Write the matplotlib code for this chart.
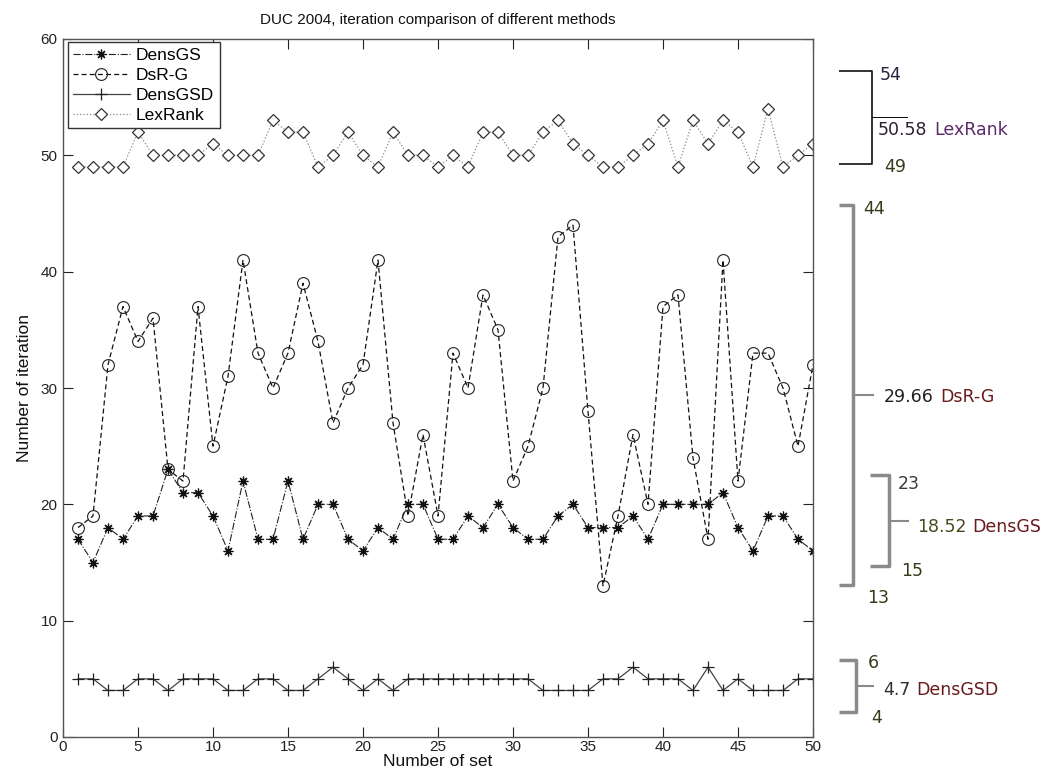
import numpy as np
import matplotlib
matplotlib.use("Agg")
import matplotlib.pyplot as plt
from matplotlib.lines import Line2D

# ---------------- data ----------------
sets = list(range(1, 51))
dens_gs = [17, 15, 18, 17, 19, 19, 23, 21, 21, 19, 16, 22, 17, 17, 22, 17, 20, 20, 17, 16,
           18, 17, 20, 20, 17, 17, 19, 18, 20, 18, 17, 17, 19, 20, 18, 18, 18, 19, 17, 20,
           20, 20, 20, 21, 18, 16, 19, 19, 17, 16]
dsr_g = [18, 19, 32, 37, 34, 36, 23, 22, 37, 25, 31, 41, 33, 30, 33, 39, 34, 27, 30, 32,
         41, 27, 19, 26, 19, 33, 30, 38, 35, 22, 25, 30, 43, 44, 28, 13, 19, 26, 20, 37,
         38, 24, 17, 41, 22, 33, 33, 30, 25, 32]
dens_gsd = [5, 5, 4, 4, 5, 5, 4, 5, 5, 5, 4, 4, 5, 5, 4, 4, 5, 6, 5, 4, 5, 4, 5, 5, 5,
            5, 5, 5, 5, 5, 5, 4, 4, 4, 4, 5, 5, 6, 5, 5, 5, 4, 6, 4, 5, 4, 4, 4, 5, 5]
lexrank = [49, 49, 49, 49, 52, 50, 50, 50, 50, 51, 50, 50, 50, 53, 52, 52, 49, 50, 52, 50,
           49, 52, 50, 50, 49, 50, 49, 52, 52, 50, 50, 52, 53, 51, 50, 49, 49, 50, 51, 53,
           49, 53, 51, 53, 52, 49, 54, 49, 50, 51]
series_names = ["DensGS", "DsR-G", "DensGSD", "LexRank"]
x_ticks = [0, 5, 10, 15, 20, 25, 30, 35, 40, 45, 50]
y_ticks = [0, 10, 20, 30, 40, 50, 60]

FONT = "Liberation Sans"
W, H = 1063, 778
fig = plt.figure(figsize=(W / 100, H / 100), dpi=100)
ax = fig.add_axes([63 / W, 1 - 737 / H, 750 / W, 698 / H])

ax.plot(sets, dens_gs, linestyle="-.", color="#222222", lw=0.8,
        marker=(8, 2, 0), ms=7, mec="#111111", mew=0.9, label=series_names[0])
ax.plot(sets, dsr_g, linestyle="--", color="#111111", lw=0.9, dashes=(4, 2.5),
        marker="o", ms=8.5, mfc="none", mec="#222222", mew=0.8, label=series_names[1])
ax.plot(sets, dens_gsd, linestyle="-", color="#444444", lw=0.9,
        marker="+", ms=9, mec="#222222", mew=0.9, label=series_names[2])
ax.plot(sets, lexrank, linestyle=":", color="#888888", lw=0.9,
        marker="D", ms=6.5, mfc="white", mec="#333333", mew=0.9, label=series_names[3])

ax.set_xlim(0, 50)
ax.set_ylim(0, 60)
ax.set_xticks(x_ticks)
ax.set_yticks(y_ticks)
ax.tick_params(direction="in", length=7, width=0.8, top=True, right=True,
               labelsize=11, colors="#222222")
ax.tick_params(axis="x", pad=2.5)
ax.tick_params(axis="y", pad=4)
for lab in ax.get_xticklabels() + ax.get_yticklabels():
    lab.set_fontfamily(FONT)
for sp in ax.spines.values():
    sp.set_color("#555555")
    sp.set_linewidth(1.0)

ax.set_title("DUC 2004, iteration comparison of different methods",
             fontfamily=FONT, fontsize=11, pad=11, color="#111111")
ax.set_xlabel("Number of set", fontfamily=FONT, fontsize=12.5, labelpad=0, color="#111111")
ax.set_ylabel("Number of iteration", fontfamily=FONT, fontsize=12.5, labelpad=6, color="#111111")

leg = ax.legend(loc="upper left", bbox_to_anchor=(0.006, 0.995), fancybox=False,
                framealpha=1, edgecolor="#333333", prop={"family": FONT, "size": 12.5},
                handlelength=3.3, handletextpad=0.35, labelspacing=0.28,
                borderpad=0.3, borderaxespad=0.0)
leg.get_frame().set_linewidth(1.0)


# ---------------- right side annotations ----------------
def px(xp, yp):
    return xp / W, 1 - yp / H


def bracket(x_left, x_vert, y_top, y_bot, y_mid, x_notch, color, lw):
    pts = [(x_left, y_top), (x_vert, y_top), (x_vert, y_bot), (x_left, y_bot)]
    xs, ys = zip(*[px(a, b) for a, b in pts])
    fig.add_artist(Line2D(xs, ys, color=color, lw=lw, solid_joinstyle="round",
                          solid_capstyle="butt"))
    xs, ys = zip(*[px(x_vert, y_mid), px(x_notch, y_mid)])
    fig.add_artist(Line2D(xs, ys, color=color, lw=lw * 0.6))


ANN_SIZE = 12.5


def label(xp, yp, s, color):
    x, y = px(xp, yp)
    return fig.text(x, y, s, color=color, fontsize=ANN_SIZE, fontfamily="DejaVu Sans",
                    ha="left", va="center")


def name_after(t, s, color):
    ax.annotate(s, xy=(1, 0.5), xycoords=t, xytext=(4.5, 0), textcoords="offset points",
                ha="left", va="center", color=color, fontsize=ANN_SIZE,
                fontfamily="DejaVu Sans", annotation_clip=False)


def fmt(v):
    return f"{round(float(v), 2):g}"


num_col = "#3a3a1a"
name_col = "#6a1a1a"

# LexRank
bracket(839, 872, 71, 164, 117, 907, "#111111", 1.2)
label(880, 75, fmt(max(lexrank)), "#2b2040")
t = label(878, 130, f"{np.mean(lexrank):.2f}", "#302030")
name_after(t, series_names[3], "#5a2a6a")
label(884, 167, fmt(min(lexrank)), num_col)

# DsR-G
bracket(839, 853, 205, 585, 395, 873, "#8a8a8a", 2.5)
label(863, 209, fmt(max(dsr_g)), num_col)
t = label(884, 397, f"{np.mean(dsr_g):.2f}", "#202020")
name_after(t, series_names[1], name_col)
label(867, 598, fmt(min(dsr_g)), num_col)

# DensGS
bracket(870, 889, 475, 566, 521, 908, "#8a8a8a", 2.5)
label(898, 484, fmt(max(dens_gs)), "#3a3a40")
t = label(917, 527, f"{np.mean(dens_gs):.2f}", "#4a4a20")
name_after(t, series_names[0], name_col)
label(901, 571, fmt(min(dens_gs)), num_col)

# DensGSD
bracket(839, 856, 660, 712, 686, 873, "#8a8a8a", 2.5)
label(868, 663, fmt(max(dens_gsd)), num_col)
t = label(883, 690, fmt(np.mean(dens_gsd)), "#303030")
name_after(t, series_names[2], name_col)
label(871, 718, fmt(min(dens_gsd)), num_col)

fig.savefig("out.png", dpi=100)
